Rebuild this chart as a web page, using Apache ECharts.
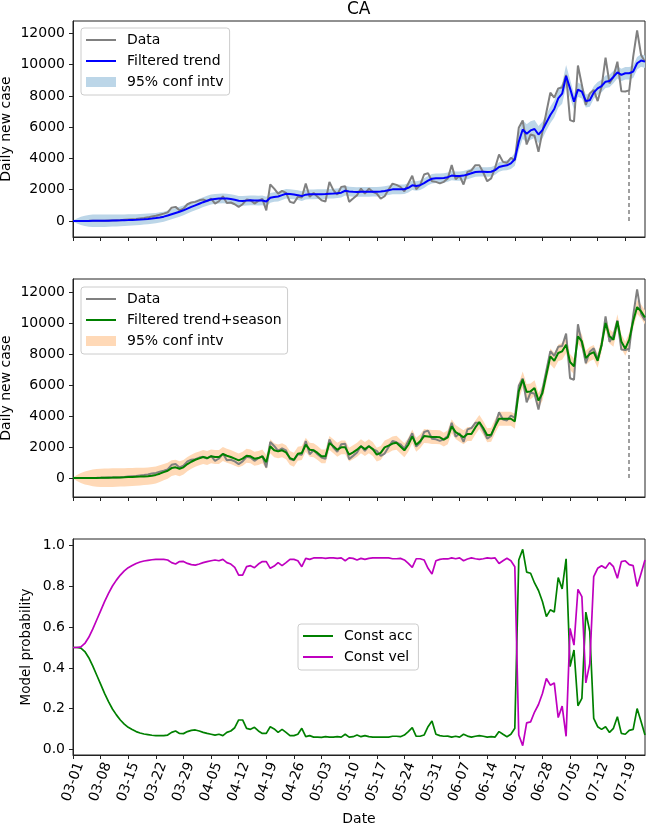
<!DOCTYPE html>
<html><head><meta charset="utf-8">
<script src="https://cdn.jsdelivr.net/npm/echarts@6/dist/echarts.min.js"></script>
<style>html,body{margin:0;padding:0;background:#fff}#c{width:646px;height:825px}</style>
</head><body><div id="c"></div>
<script>
const tickLabels = ['03-01','03-08','03-15','03-22','03-29','04-05','04-12','04-19','04-26','05-03','05-10','05-17','05-24','05-31','06-07','06-14','06-21','06-28','07-05','07-12','07-19'];

const dataVals = [
0,0,2,3,5,8,10,14,20,30,
25,40,50,70,90,110,130,160,190,230,
290,330,400,470,550,850,900,680,790,1070,
1180,1220,1320,1370,1260,1430,1110,1260,1580,1150,
1180,1070,900,1070,1370,1320,1110,1280,1410,680,
2330,2070,1750,1920,1790,1220,1150,1540,1500,2390,
1540,1790,1540,1320,1240,2500,1970,1690,2180,2220,
1220,1430,1650,2070,1750,2070,1860,1750,1430,1580,
2010,2390,2310,2180,1900,2400,2890,2030,2290,2970,
3060,2540,2500,2400,2500,2720,3570,2670,2890,2330,
3140,3230,3570,3570,3100,2540,2720,3400,4250,3780,
3720,4040,3890,5960,6430,4890,5530,5450,4420,5710,
6950,8200,7890,8480,8530,9340,6450,6350,9940,8700,
7420,8160,8380,7670,8590,10450,8800,9230,10190,8300,
8280,8350,10500,12190,10620,10190];

const trendVals = [
0,0,1,2,3,5,7,10,14,19,
25,31,38,46,56,67,80,95,112,131,
155,185,225,275,350,430,510,590,680,790,
900,1000,1100,1200,1290,1370,1410,1430,1440,1430,
1400,1350,1290,1280,1300,1320,1310,1300,1310,1240,
1480,1530,1560,1650,1740,1720,1690,1650,1590,1680,
1700,1700,1710,1710,1720,1740,1750,1770,1810,1930,
1880,1860,1850,1860,1860,1860,1870,1870,1880,1920,
1970,2020,2020,2020,2030,2120,2280,2240,2290,2420,
2580,2700,2730,2730,2750,2800,2900,2870,2870,2900,
2970,3050,3130,3150,3140,3130,3150,3250,3450,3520,
3560,3680,3950,5070,5850,5580,5790,5880,5530,5810,
6300,6780,7160,7840,8140,9270,8480,7630,8400,8270,
7670,7720,8210,8480,8630,8910,8950,9210,9510,9340,
9450,9450,9550,10090,10260,10190];

const trendCI = [
30,160,260,330,380,400,400,400,395,390,
385,380,375,370,365,360,355,350,345,340,
335,330,325,320,320,315,315,315,315,315,
315,315,315,315,315,315,315,315,315,315,
310,310,310,310,310,310,310,310,310,310,
310,310,310,310,310,310,310,310,310,310,
310,310,310,310,310,310,310,310,310,310,
305,305,305,305,305,305,305,305,305,305,
305,305,305,305,305,305,305,305,305,305,
300,300,300,300,300,300,300,300,300,300,
300,300,300,300,300,300,300,300,300,300,
320,350,420,560,600,600,590,570,550,530,
520,530,550,600,650,700,580,500,460,430,
420,410,400,400,400,400,400,400,400,400,
400,400,400,400,400,400];

const seasonVals = [
0,0,1,2,4,6,8,11,15,20,
25,32,40,48,58,68,80,92,105,120,
150,200,280,380,470,640,690,600,690,900,
1050,1180,1270,1360,1290,1400,1360,1360,1550,1440,
1360,1250,1140,1250,1440,1400,1250,1290,1400,1030,
2050,1790,1720,1790,1660,1290,1180,1570,1620,2150,
1830,1790,1620,1400,1400,2260,2050,1830,1980,1980,
1510,1660,1830,2050,1870,2050,1870,1510,1620,1980,
2090,2230,2280,2040,1790,2150,2690,2150,2370,2710,
2690,2650,2650,2630,2480,2630,3340,2970,2800,2630,
2840,2840,3270,3620,3230,2760,2800,3340,3830,3830,
3830,3830,3660,5600,6360,5560,5600,5820,5000,5490,
6680,7860,7580,8080,8190,8620,7500,7220,9160,8830,
7760,8010,8140,7580,8620,10020,9160,8940,10130,8830,
8360,8940,10130,11050,10770,10380];

const seasonCI = [
30,200,330,420,480,540,570,590,600,600,
600,600,595,590,585,580,575,570,565,560,
555,550,540,530,520,505,490,480,470,460,
450,450,450,450,450,450,450,450,450,450,
450,450,450,450,450,450,450,450,450,450,
450,450,450,450,450,450,450,450,450,450,
450,450,450,450,450,450,450,450,450,450,
450,450,450,450,450,450,450,450,450,450,
450,450,450,450,450,450,450,450,450,450,
450,450,450,450,450,450,450,450,450,450,
450,450,450,450,450,450,450,450,450,450,
450,460,480,520,530,520,510,500,490,490,
500,510,520,530,540,550,520,500,480,470,
460,460,460,460,460,460,460,460,460,460,
450,450,450,450,450,450];

const accProb = [
0.5,0.5,0.497,0.48,0.45,0.41,0.365,0.32,0.275,0.234,
0.198,0.169,0.144,0.124,0.108,0.097,0.087,0.08,0.075,0.072,
0.069,0.067,0.067,0.067,0.07,0.083,0.09,0.078,0.077,0.087,
0.093,0.095,0.09,0.083,0.078,0.074,0.07,0.074,0.067,0.083,
0.09,0.106,0.144,0.144,0.103,0.098,0.108,0.09,0.078,0.078,
0.111,0.1,0.083,0.098,0.083,0.067,0.067,0.074,0.103,0.062,
0.067,0.06,0.06,0.059,0.062,0.06,0.06,0.062,0.06,0.074,
0.06,0.062,0.07,0.062,0.067,0.062,0.06,0.06,0.06,0.06,
0.06,0.064,0.064,0.062,0.07,0.087,0.106,0.064,0.064,0.07,
0.111,0.139,0.074,0.067,0.064,0.065,0.06,0.064,0.06,0.074,
0.065,0.06,0.064,0.067,0.064,0.06,0.062,0.06,0.087,0.074,
0.062,0.074,0.103,0.93,0.982,0.87,0.865,0.817,0.78,0.726,
0.652,0.685,0.674,0.844,0.788,0.936,0.406,0.488,0.214,0.25,
0.674,0.579,0.152,0.111,0.098,0.111,0.083,0.103,0.16,0.078,
0.074,0.093,0.098,0.2,0.136,0.07];

const velProb = [
0.5,0.5,0.503,0.52,0.55,0.59,0.635,0.68,0.725,0.766,
0.802,0.831,0.856,0.876,0.892,0.903,0.913,0.92,0.925,0.928,
0.931,0.933,0.933,0.933,0.93,0.917,0.91,0.922,0.923,0.913,
0.907,0.905,0.91,0.917,0.922,0.926,0.93,0.926,0.933,0.917,
0.91,0.894,0.856,0.856,0.897,0.902,0.892,0.91,0.922,0.922,
0.889,0.9,0.917,0.902,0.917,0.933,0.933,0.926,0.897,0.938,
0.933,0.94,0.94,0.941,0.938,0.94,0.94,0.938,0.94,0.926,
0.94,0.938,0.93,0.938,0.933,0.938,0.94,0.94,0.94,0.94,
0.94,0.936,0.936,0.938,0.93,0.913,0.894,0.936,0.936,0.93,
0.889,0.861,0.926,0.933,0.936,0.935,0.94,0.936,0.94,0.926,
0.935,0.94,0.936,0.933,0.936,0.94,0.938,0.94,0.913,0.926,
0.938,0.926,0.897,0.07,0.018,0.13,0.135,0.183,0.22,0.274,
0.348,0.315,0.326,0.156,0.212,0.064,0.594,0.512,0.786,0.75,
0.326,0.421,0.848,0.889,0.902,0.889,0.917,0.897,0.84,0.922,
0.926,0.907,0.902,0.8,0.864,0.93];

const caseTicks = [0,2000,4000,6000,8000,10000,12000];
const probTicks = [0,0.2,0.4,0.6,0.8,1.0];
const markDay = 141;

const FONT = 'DejaVu Sans';
const bandBlue = '#bcd6e8', bandOrange = '#ffd9b7';
const lineIcon = 'path://M0,0h30v2h-30z';
const xTickVals = tickLabels.map((_, i) => i * 7);
const lastDay = dataVals.length - 1;
const pairs = arr => arr.map((v, i) => [i, v]);

function xAxis(idx, showLabels) {
  return {
    type: 'value', gridIndex: idx, min: 0, max: lastDay,
    splitLine: {show: false},
    axisLine: {show: true, onZero: false, lineStyle: {color: '#222', width: 1}},
    axisTick: {show: true, length: 4, customValues: xTickVals, lineStyle: {color: '#222'}},
    axisLabel: {
      show: showLabels, customValues: xTickVals, rotate: 70, align: 'center', verticalAlign: 'middle',
      margin: 27, fontFamily: FONT, fontSize: 14, color: '#000',
      formatter: v => tickLabels[Math.round(v / 7)] || ''
    },
    name: showLabels ? 'Date' : '', nameLocation: 'middle', nameGap: 57, nameMoveOverlap: false,
    nameTextStyle: {fontFamily: FONT, fontSize: 14, color: '#000'}
  };
}
function yAxis(idx, min, max, ticks, name, gap, fmt, nameSize) {
  return {
    type: 'value', gridIndex: idx, min: min, max: max,
    splitLine: {show: false},
    axisLine: {show: true, lineStyle: {color: '#222', width: 1}},
    axisTick: {show: true, length: 4, customValues: ticks, lineStyle: {color: '#222'}},
    axisLabel: {customValues: ticks, margin: 8, fontFamily: FONT, fontSize: 14, color: '#000', formatter: fmt},
    name: name, nameLocation: 'middle', nameGap: gap, nameMoveOverlap: false,
    nameTextStyle: {fontFamily: FONT, fontSize: nameSize, color: '#000'}
  };
}
function bandSeries(name, idx, center, ci, color) {
  return {
    type: 'custom', name: name, xAxisIndex: idx, yAxisIndex: idx, silent: true, z: 1, clip: true,
    data: center.map((v, i) => [i, v - ci[i], v + ci[i]]),
    encode: {x: 0, y: [1, 2]},
    itemStyle: {color: color},
    renderItem: function (params, api) {
      if (params.dataIndex !== 0) return null;
      const pts = [];
      for (let i = 0; i < center.length; i++) pts.push(api.coord([i, center[i] + ci[i]]));
      for (let i = center.length - 1; i >= 0; i--) pts.push(api.coord([i, center[i] - ci[i]]));
      return {type: 'polygon', shape: {points: pts}, style: {fill: color}};
    }
  };
}
const legendCommon = {
  orient: 'vertical', itemWidth: 30, itemHeight: 10, itemGap: 7,
  padding: [5, 6, 6, 5], borderColor: '#cccccc', borderWidth: 1, borderRadius: 3,
  backgroundColor: 'rgba(255,255,255,0.8)', selectedMode: false,
  textStyle: {fontFamily: FONT, fontSize: 14, color: '#000', lineHeight: 14, padding: [0, 0, 0, 6]}
};
const gridCommon = {left: 73, width: 572, show: true, borderColor: '#222', borderWidth: 1, containLabel: false, outerBoundsMode: 'none'};
const markLineOpt = {silent: true, symbol: ['none', 'none'], label: {show: false},
  lineStyle: {type: [4, 3], color: '#808080', width: 1.5},
  data: [[{coord: [markDay, 0]}, {coord: [markDay, dataVals[markDay]]}]]};

const option = {
  animation: false,
  backgroundColor: '#fff',
  title: {text: 'CA', left: 347, top: 1, padding: 0, textStyle: {fontFamily: FONT, fontSize: 17, fontWeight: 'normal', color: '#000'}},
  grid: [
    Object.assign({top: 21, height: 216}, gridCommon),
    Object.assign({top: 279, height: 218}, gridCommon),
    Object.assign({top: 539, height: 216}, gridCommon)
  ],
  xAxis: [xAxis(0, false), xAxis(1, false), xAxis(2, true)],
  yAxis: [
    yAxis(0, -1027, 12790, caseTicks, 'Daily new case', 60, v => String(v), 14),
    yAxis(1, -1228, 12864, caseTicks, 'Daily new case', 60, v => String(v), 14),
    yAxis(2, -0.028, 1.033, probTicks, 'Model probability', 40, v => v.toFixed(1), 13.5)
  ],
  legend: [
    Object.assign({left: 81, top: 28, data: [
      {name: 'Data', icon: lineIcon, itemStyle: {color: '#808080'}},
      {name: 'Filtered trend', icon: lineIcon, itemStyle: {color: '#0000ff'}},
      {name: '95% conf intv', icon: 'rect', itemStyle: {color: bandBlue, opacity: 1}}
    ]}, legendCommon),
    Object.assign({left: 81, top: 287, data: [
      {name: 'Data', icon: lineIcon, itemStyle: {color: '#808080'}},
      {name: 'Filtered trend+season', icon: lineIcon, itemStyle: {color: '#008000'}},
      {name: '95% conf intv', icon: 'rect', itemStyle: {color: bandOrange, opacity: 1}}
    ]}, legendCommon),
    Object.assign({left: 298, top: 624, data: [
      {name: 'Const acc', icon: lineIcon, itemStyle: {color: '#008000'}},
      {name: 'Const vel', icon: lineIcon, itemStyle: {color: '#bf00bf'}}
    ]}, legendCommon)
  ],
  series: [
    bandSeries('95% conf intv', 0, trendVals, trendCI, bandBlue),
    {type: 'line', name: 'Data', xAxisIndex: 0, yAxisIndex: 0, data: pairs(dataVals), symbol: 'none', showSymbol: false,
     lineStyle: {color: '#808080', width: 2}, itemStyle: {color: '#808080'}, z: 2, markLine: markLineOpt},
    {type: 'line', name: 'Filtered trend', xAxisIndex: 0, yAxisIndex: 0, data: pairs(trendVals), symbol: 'none', showSymbol: false,
     lineStyle: {color: '#0000ff', width: 2}, itemStyle: {color: '#0000ff'}, z: 3},
    bandSeries('95% conf intv', 1, seasonVals, seasonCI, bandOrange),
    {type: 'line', name: 'Data', xAxisIndex: 1, yAxisIndex: 1, data: pairs(dataVals), symbol: 'none', showSymbol: false,
     lineStyle: {color: '#808080', width: 2}, itemStyle: {color: '#808080'}, z: 2, markLine: markLineOpt},
    {type: 'line', name: 'Filtered trend+season', xAxisIndex: 1, yAxisIndex: 1, data: pairs(seasonVals), symbol: 'none', showSymbol: false,
     lineStyle: {color: '#008000', width: 2}, itemStyle: {color: '#008000'}, z: 3},
    {type: 'line', name: 'Const acc', xAxisIndex: 2, yAxisIndex: 2, data: pairs(accProb), symbol: 'none', showSymbol: false,
     lineStyle: {color: '#008000', width: 1.7}, itemStyle: {color: '#008000'}, z: 2},
    {type: 'line', name: 'Const vel', xAxisIndex: 2, yAxisIndex: 2, data: pairs(velProb), symbol: 'none', showSymbol: false,
     lineStyle: {color: '#bf00bf', width: 1.7}, itemStyle: {color: '#bf00bf'}, z: 2}
  ]
};
const chart = echarts.init(document.getElementById('c'), null, {renderer: 'canvas'});
chart.setOption(option);
</script>
</body></html>
